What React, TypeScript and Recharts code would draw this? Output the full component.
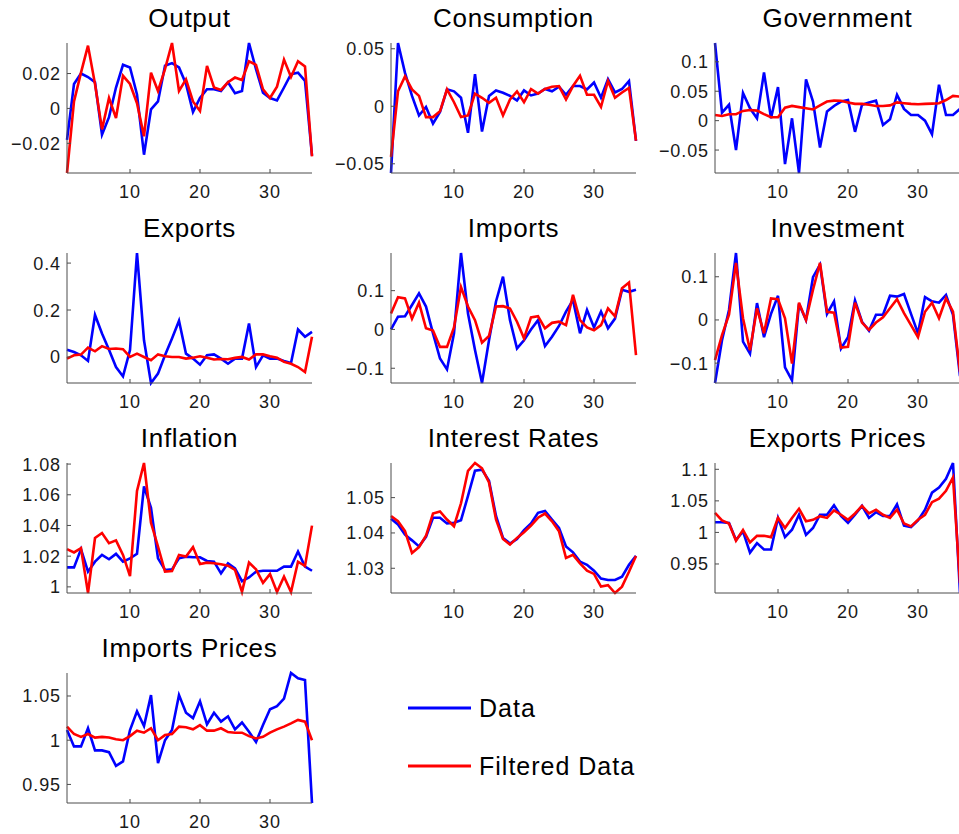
import { Line, LineChart, XAxis, YAxis } from 'recharts'

const periods = [
  1, 2, 3, 4, 5, 6, 7, 8, 9, 10, 11, 12, 13, 14, 15, 16, 17, 18,
  19, 20, 21, 22, 23, 24, 25, 26, 27, 28, 29, 30, 31, 32, 33, 34, 35, 36,
]
const xTicks = [10, 20, 30]

const outputData = [-0.018, 0.014, 0.02, 0.018, 0.015, -0.015, -0.005, 0.012, 0.025, 0.0235, 0.008, -0.0265, -0.0005, 0.004, 0.0245, 0.026, 0.0235, 0.014, -0.002, 0.006, 0.011, 0.011, 0.01, 0.015, 0.0087, 0.01, 0.0375, 0.0225, 0.009, 0.006, 0.0046, 0.012, 0.0196, 0.0205, 0.0158, -0.027]
const outputFiltered = [-0.037, 0.004, 0.0205, 0.036, 0.014, -0.012, 0.006, -0.0055, 0.0187, 0.014, 0.003, -0.016, 0.0205, 0.01, 0.0225, 0.0375, 0.01, 0.0167, 0.004, -0.0015, 0.0244, 0.012, 0.0106, 0.015, 0.0177, 0.0163, 0.027, 0.025, 0.011, 0.006, 0.0125, 0.028, 0.018, 0.027, 0.024, -0.0275]
const outputTicks = [-0.02, 0, 0.02]

const consumptionData = [-0.058, 0.055, 0.029, 0.009, -0.008, -0.0006, -0.015, -0.005, 0.0147, 0.013, 0.0074, -0.023, 0.028, -0.022, 0.009, 0.0138, 0.0118, 0.009, 0.005, 0.0138, 0.0094, 0.011, 0.015, 0.013, 0.017, 0.01, 0.0176, 0.0176, 0.0147, 0.0206, 0.0074, 0.0235, 0.012, 0.015, 0.022, -0.03]
const consumptionFiltered = [-0.044, 0.013, 0.026, 0.0147, 0.009, -0.0094, -0.0094, -0.0044, 0.0147, 0.0035, -0.0094, -0.008, 0.011, 0.0074, 0.003, 0.0074, -0.008, 0.0059, 0.013, 0.0035, 0.015, 0.011, 0.015, 0.017, 0.0176, 0.0059, 0.0176, 0.0265, 0.01, 0.01, -0.0006, 0.022, 0.0074, 0.012, 0.016, -0.03]
const consumptionTicks = [-0.05, 0, 0.05]

const governmentData = [0.132, 0.0137, 0.027, -0.05, 0.047, 0.021, 0.004, 0.082, 0.004, 0.057, -0.074, 0.004, -0.089, 0.07, 0.0325, -0.0456, 0.0154, 0.025, 0.0325, 0.035, -0.019, 0.027, 0.031, 0.034, -0.0074, 0.0023, 0.044, 0.02, 0.0097, 0.0097, 0, -0.023, 0.061, 0.0097, 0.0097, 0.02]
const governmentFiltered = [0.0097, 0.008, 0.011, 0.011, 0.0165, 0.018, 0.017, 0.011, 0.0057, 0.0057, 0.022, 0.025, 0.023, 0.021, 0.019, 0.026, 0.0325, 0.034, 0.0337, 0.031, 0.0285, 0.0285, 0.027, 0.025, 0.025, 0.026, 0.031, 0.0297, 0.0285, 0.028, 0.0285, 0.029, 0.0297, 0.035, 0.042, 0.041]
const governmentTicks = [-0.05, 0, 0.05, 0.1]

const exportsData = [0.031, 0.021, 0.007, -0.017, 0.179, 0.1, 0.031, -0.043, -0.083, 0.029, 0.443, 0.071, -0.111, -0.071, 0.007, 0.079, 0.154, 0.014, -0.007, -0.033, 0.007, 0.011, -0.007, -0.029, -0.007, -0.007, 0.143, -0.043, 0.007, -0.007, -0.007, -0.017, -0.026, 0.117, 0.086, 0.107]
const exportsFiltered = [-0.007, 0.007, 0.01, 0.04, 0.024, 0.046, 0.034, 0.036, 0.033, 0, 0.014, 0, -0.014, 0.011, 0.003, 0, 0, -0.007, -0.003, 0.003, -0.003, -0.011, -0.009, -0.01, -0.004, 0, -0.011, 0.011, 0.011, 0.003, -0.003, -0.021, -0.029, -0.043, -0.064, 0.086]
const exportsTicks = [0, 0.2, 0.4]

const importsData = [0, 0.033, 0.034, 0.063, 0.093, 0.059, -0.01, -0.075, -0.103, -0.01, 0.197, 0.041, -0.053, -0.138, -0.028, 0.072, 0.136, 0.024, -0.049, -0.028, 0, 0.024, -0.043, -0.019, 0.009, 0.046, 0.076, -0.01, 0.05, 0.005, 0.046, 0.003, 0.028, 0.102, 0.097, 0.102]
const importsFiltered = [0.041, 0.083, 0.08, 0.028, 0.069, 0.003, -0.003, -0.045, -0.045, 0.005, 0.109, 0.059, 0.024, -0.034, -0.017, 0.059, 0.06, 0.054, 0.02, -0.023, 0.031, 0.034, 0.003, 0.017, 0.02, 0.011, 0.089, 0.024, 0.005, -0.002, 0.011, 0.054, 0.034, 0.106, 0.121, -0.066]
const importsTicks = [-0.1, 0, 0.1]

const investmentData = [-0.146, -0.047, 0.023, 0.155, -0.05, -0.078, 0.039, -0.04, 0.014, 0.056, -0.11, -0.14, 0.037, 0, 0.099, 0.128, 0.014, 0.043, -0.066, -0.04, 0.045, -0.004, -0.025, 0.012, 0.012, 0.056, 0.054, 0.06, 0.014, -0.031, 0.053, 0.043, 0.04, 0.058, 0.012, -0.13]
const investmentFiltered = [-0.093, -0.035, 0.012, 0.132, 0.004, -0.07, 0.027, -0.031, 0.05, 0.048, 0.004, -0.101, 0.04, 0, 0.07, 0.132, 0.019, 0.017, -0.064, -0.062, 0.04, -0.006, -0.023, -0.006, 0.006, 0.027, 0.048, 0.016, -0.012, -0.04, 0.019, 0.04, 0.004, 0.05, 0.019, -0.12]
const investmentTicks = [-0.1, 0, 0.1]

const inflationData = [1.0127, 1.0127, 1.0246, 1.0099, 1.0164, 1.0208, 1.018, 1.0215, 1.0164, 1.0186, 1.0215, 1.0654, 1.0515, 1.0186, 1.011, 1.0114, 1.0186, 1.0197, 1.0193, 1.0193, 1.0169, 1.0164, 1.0088, 1.0154, 1.012, 1.0037, 1.0061, 1.0099, 1.0105, 1.0105, 1.0105, 1.0132, 1.0132, 1.023, 1.0132, 1.0105]
const inflationFiltered = [1.0246, 1.0224, 1.0252, 0.996, 1.0318, 1.0351, 1.0285, 1.0303, 1.0208, 1.007, 1.0625, 1.0807, 1.0417, 1.0263, 1.0099, 1.0103, 1.0208, 1.0197, 1.0259, 1.0149, 1.0158, 1.0154, 1.0147, 1.0138, 1.011, 0.9967, 1.0158, 1.0114, 1.0026, 1.0083, 0.9967, 1.0066, 0.9967, 1.0164, 1.0136, 1.0399]
const inflationTicks = [1, 1.02, 1.04, 1.06, 1.08]

const interestData = [1.044, 1.0424, 1.0395, 1.0379, 1.0362, 1.0389, 1.0443, 1.0443, 1.0427, 1.0429, 1.0436, 1.0505, 1.0576, 1.0579, 1.0548, 1.0448, 1.0386, 1.037, 1.0383, 1.0408, 1.0427, 1.0457, 1.0462, 1.0438, 1.0414, 1.0362, 1.0345, 1.0319, 1.031, 1.0293, 1.0271, 1.0267, 1.0267, 1.0276, 1.031, 1.0335]
const interestFiltered = [1.0448, 1.0433, 1.0405, 1.0343, 1.036, 1.0392, 1.0455, 1.0461, 1.0438, 1.0419, 1.0484, 1.0576, 1.0598, 1.0583, 1.0543, 1.0438, 1.0383, 1.0367, 1.0386, 1.0402, 1.0421, 1.0443, 1.0455, 1.0433, 1.0405, 1.0329, 1.0338, 1.0314, 1.0293, 1.0284, 1.0248, 1.0252, 1.023, 1.0248, 1.029, 1.0335]
const interestTicks = [1.03, 1.04, 1.05]

const exportPricesData = [1.016, 1.016, 1.015, 0.988, 1.0016, 0.968, 0.983, 0.973, 0.973, 1.023, 0.9925, 1.0043, 1.028, 0.996, 1.007, 1.028, 1.028, 1.043, 1.026, 1.015, 1.028, 1.042, 1.023, 1.032, 1.026, 1.026, 1.0445, 1.0107, 1.0086, 1.019, 1.036, 1.063, 1.071, 1.085, 1.11, 0.904]
const exportPricesFiltered = [1.031, 1.019, 1.014, 0.987, 1.004, 0.984, 0.9946, 0.9946, 0.9925, 1.023, 1.007, 1.023, 1.0375, 1.0177, 1.02, 1.0257, 1.023, 1.035, 1.028, 1.02, 1.03, 1.042, 1.03, 1.036, 1.028, 1.023, 1.036, 1.014, 1.0096, 1.02, 1.028, 1.048, 1.0536, 1.066, 1.087, 0.92]
const exportPricesTicks = [0.95, 1, 1.05, 1.1]

const importPricesData = [1.0115, 0.993, 0.993, 1.0135, 0.9885, 0.9885, 0.9865, 0.971, 0.976, 1.0115, 1.0327, 1.016, 1.051, 0.974, 1.0, 1.0115, 1.051, 1.031, 1.025, 1.044, 1.018, 1.031, 1.021, 1.027, 1.0123, 1.02, 1.0096, 0.998, 1.0173, 1.035, 1.0385, 1.047, 1.076, 1.07, 1.068, 0.929]
const importPricesFiltered = [1.0154, 1.007, 1.0038, 1.007, 1.003, 1.0038, 1.003, 1.001, 1.0, 1.0046, 1.0108, 1.0085, 1.0135, 1.0, 1.0058, 1.007, 1.0154, 1.0146, 1.0123, 1.017, 1.0108, 1.0108, 1.0135, 1.0092, 1.0085, 1.0085, 1.0046, 1.002, 1.0038, 1.0085, 1.0123, 1.0154, 1.019, 1.023, 1.021, 1.0]
const importPricesTicks = [0.95, 1, 1.05]

const panels = [
  { title: 'Output', data: outputData, filtered: outputFiltered, ticks: outputTicks },
  { title: 'Consumption', data: consumptionData, filtered: consumptionFiltered, ticks: consumptionTicks },
  { title: 'Government', data: governmentData, filtered: governmentFiltered, ticks: governmentTicks },
  { title: 'Exports', data: exportsData, filtered: exportsFiltered, ticks: exportsTicks },
  { title: 'Imports', data: importsData, filtered: importsFiltered, ticks: importsTicks },
  { title: 'Investment', data: investmentData, filtered: investmentFiltered, ticks: investmentTicks },
  { title: 'Inflation', data: inflationData, filtered: inflationFiltered, ticks: inflationTicks },
  { title: 'Interest Rates', data: interestData, filtered: interestFiltered, ticks: interestTicks },
  { title: 'Exports Prices', data: exportPricesData, filtered: exportPricesFiltered, ticks: exportPricesTicks },
  { title: 'Imports Prices', data: importPricesData, filtered: importPricesFiltered, ticks: importPricesTicks },
]

// layout (pixels)
const COL_X = [67, 391, 715]
const ROW_Y = [43, 253, 463, 673]
const PLOT_W = 245
const PLOT_H = 130
const Y_AXIS_W = 60
const M = { top: 10, right: 10, bottom: 0, left: 10 }
const X_AXIS_H = 30

const FONT = '"Liberation Sans", Arial, Helvetica, sans-serif'
const AXIS = '#4d4d4d'
const TEXT = '#1a1a1a'

const fmt = (v: number) => (v < 0 ? '\u2212' + String(Math.abs(v)) : String(v))

function YTick(props: any) {
  const { x, y, payload } = props
  return (
    <g>
      <line x1={x} x2={x + 4} y1={y} y2={y} stroke={AXIS} strokeWidth={1} />
      <text x={x - 6} y={y} dy="0.36em" textAnchor="end" fontSize={18} letterSpacing={0.9} fill={TEXT} fontFamily={FONT}>
        {fmt(payload.value)}
      </text>
    </g>
  )
}

function XTick(props: any) {
  const { x, y, payload } = props
  return (
    <g>
      <line x1={x} x2={x} y1={y} y2={y - 4} stroke={AXIS} strokeWidth={1} />
      <text x={x} y={y + 25} textAnchor="middle" fontSize={18} letterSpacing={0.9} fill={TEXT} fontFamily={FONT}>
        {payload.value}
      </text>
    </g>
  )
}

function Panel({ index }: { index: number }) {
  const p = panels[index]
  const left = COL_X[index % 3]
  const top = ROW_Y[Math.floor(index / 3)]
  const rows = periods.map((t, i) => ({ period: t, data: p.data[i], filtered: p.filtered[i] }))
  const lo = Math.min(...p.data, ...p.filtered)
  const hi = Math.max(...p.data, ...p.filtered)
  const width = M.left + Y_AXIS_W + PLOT_W + M.right
  const height = M.top + PLOT_H + X_AXIS_H + M.bottom
  return (
    <div style={{ position: 'absolute', left: left - M.left - Y_AXIS_W, top: top - M.top }}>
      <LineChart width={width} height={height} data={rows} margin={M}>
        <XAxis
          type="number"
          dataKey="period"
          domain={[1, 36]}
          ticks={xTicks}
          interval={0}
          height={X_AXIS_H}
          tickSize={0}
          tickMargin={0}
          axisLine={{ stroke: AXIS, strokeWidth: 1 }}
          tickLine={false}
          tick={<XTick />}
        />
        <YAxis
          type="number"
          domain={[lo, hi]}
          ticks={p.ticks}
          interval={0}
          width={Y_AXIS_W}
          tickSize={0}
          tickMargin={0}
          axisLine={{ stroke: AXIS, strokeWidth: 1 }}
          tickLine={false}
          tick={<YTick />}
        />
        <Line type="linear" dataKey="data" stroke="#0000ff" strokeWidth={2.6} dot={false} activeDot={false} isAnimationActive={false} />
        <Line type="linear" dataKey="filtered" stroke="#ff0000" strokeWidth={2.6} dot={false} activeDot={false} isAnimationActive={false} />
      </LineChart>
    </div>
  )
}

export default function App() {
  return (
    <div style={{ position: 'absolute', left: 0, top: 0, width: 959, height: 834, overflow: 'hidden', background: '#fff' }}>
      {panels.map((_, i) => (
        <Panel key={i} index={i} />
      ))}
      <svg width={959} height={834} style={{ position: 'absolute', left: 0, top: 0, pointerEvents: 'none' }}>
        {panels.map((p, i) => (
          <text
            key={p.title}
            x={COL_X[i % 3] + PLOT_W / 2}
            y={ROW_Y[Math.floor(i / 3)] - 16}
            textAnchor="middle"
            fontSize={26}
            letterSpacing={0.7}
            fill="#000"
            fontFamily={FONT}
          >
            {p.title}
          </text>
        ))}
        <line x1={408} x2={471} y1={708} y2={708} stroke="#0000ff" strokeWidth={3} />
        <text x={479} y={717} fontSize={25} letterSpacing={1} fill="#000" fontFamily={FONT}>
          Data
        </text>
        <line x1={408} x2={471} y1={766} y2={766} stroke="#ff0000" strokeWidth={3} />
        <text x={479} y={775} fontSize={25} letterSpacing={1} fill="#000" fontFamily={FONT}>
          Filtered Data
        </text>
      </svg>
    </div>
  )
}
